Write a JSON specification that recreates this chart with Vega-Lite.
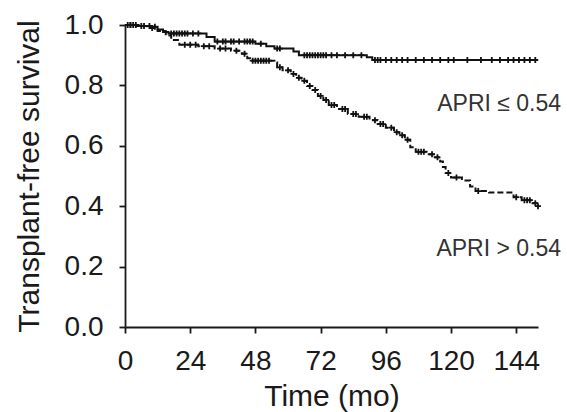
{
  "$schema": "https://vega.github.io/schema/vega-lite/v6.json",
  "width": 413,
  "height": 302,
  "autosize": {"type": "none"},
  "padding": {"left": 125, "top": 25, "right": 29, "bottom": 85},
  "background": "white",
  "config": {
    "view": {"stroke": null},
    "font": "Liberation Sans",
    "axis": {
      "domainColor": "#1a1a1a",
      "domainWidth": 1.8,
      "tickColor": "#1a1a1a",
      "tickWidth": 1.8,
      "tickSize": 6,
      "grid": false,
      "labelFlush": false,
      "labelFont": "Liberation Sans",
      "labelFontSize": 28,
      "labelColor": "#1a1a1a",
      "titleFont": "Liberation Sans",
      "titleFontSize": 30,
      "titleFontWeight": "normal",
      "titleColor": "#1a1a1a"
    }
  },
  "datasets": {
    "steps": [
      {"group": "low", "t": 0, "s": 1.0},
      {"group": "low", "t": 5, "s": 0.997},
      {"group": "low", "t": 10, "s": 0.994},
      {"group": "low", "t": 12, "s": 0.985},
      {"group": "low", "t": 14, "s": 0.977},
      {"group": "low", "t": 16, "s": 0.972},
      {"group": "low", "t": 30, "s": 0.96},
      {"group": "low", "t": 33, "s": 0.945},
      {"group": "low", "t": 48, "s": 0.938},
      {"group": "low", "t": 52, "s": 0.93},
      {"group": "low", "t": 55, "s": 0.922},
      {"group": "low", "t": 62, "s": 0.912},
      {"group": "low", "t": 64, "s": 0.9},
      {"group": "low", "t": 89, "s": 0.893},
      {"group": "low", "t": 91, "s": 0.884},
      {"group": "low", "t": 152, "s": 0.884},
      {"group": "high", "t": 0, "s": 1.0},
      {"group": "high", "t": 4, "s": 0.997},
      {"group": "high", "t": 8, "s": 0.99},
      {"group": "high", "t": 12, "s": 0.98},
      {"group": "high", "t": 15, "s": 0.965},
      {"group": "high", "t": 17, "s": 0.95},
      {"group": "high", "t": 20, "s": 0.935},
      {"group": "high", "t": 27, "s": 0.93},
      {"group": "high", "t": 33, "s": 0.922},
      {"group": "high", "t": 39, "s": 0.915},
      {"group": "high", "t": 43, "s": 0.905},
      {"group": "high", "t": 45, "s": 0.89},
      {"group": "high", "t": 46, "s": 0.882},
      {"group": "high", "t": 55, "s": 0.876},
      {"group": "high", "t": 56, "s": 0.86},
      {"group": "high", "t": 58, "s": 0.85},
      {"group": "high", "t": 61, "s": 0.838},
      {"group": "high", "t": 63, "s": 0.825},
      {"group": "high", "t": 65, "s": 0.815},
      {"group": "high", "t": 67, "s": 0.798},
      {"group": "high", "t": 69, "s": 0.785},
      {"group": "high", "t": 71, "s": 0.765},
      {"group": "high", "t": 73, "s": 0.752},
      {"group": "high", "t": 75, "s": 0.735},
      {"group": "high", "t": 78, "s": 0.722},
      {"group": "high", "t": 82, "s": 0.705},
      {"group": "high", "t": 86, "s": 0.696},
      {"group": "high", "t": 90, "s": 0.685},
      {"group": "high", "t": 93, "s": 0.672},
      {"group": "high", "t": 96, "s": 0.66},
      {"group": "high", "t": 99, "s": 0.645},
      {"group": "high", "t": 101, "s": 0.635},
      {"group": "high", "t": 103, "s": 0.62},
      {"group": "high", "t": 105, "s": 0.595},
      {"group": "high", "t": 107, "s": 0.58},
      {"group": "high", "t": 111, "s": 0.572},
      {"group": "high", "t": 114, "s": 0.562},
      {"group": "high", "t": 116, "s": 0.548},
      {"group": "high", "t": 117, "s": 0.53},
      {"group": "high", "t": 118, "s": 0.51},
      {"group": "high", "t": 120, "s": 0.495},
      {"group": "high", "t": 124, "s": 0.485},
      {"group": "high", "t": 127, "s": 0.465},
      {"group": "high", "t": 129, "s": 0.45},
      {"group": "high", "t": 134, "s": 0.445},
      {"group": "high", "t": 143, "s": 0.43},
      {"group": "high", "t": 146, "s": 0.42},
      {"group": "high", "t": 150, "s": 0.41},
      {"group": "high", "t": 152, "s": 0.4}
    ],
    "censor": [
      {"group": "low", "t": 1, "s": 1.0},
      {"group": "low", "t": 2, "s": 1.0},
      {"group": "low", "t": 3, "s": 1.0},
      {"group": "low", "t": 4, "s": 1.0},
      {"group": "low", "t": 7, "s": 0.997},
      {"group": "low", "t": 9, "s": 0.997},
      {"group": "low", "t": 11, "s": 0.994},
      {"group": "low", "t": 17, "s": 0.972},
      {"group": "low", "t": 18, "s": 0.972},
      {"group": "low", "t": 19, "s": 0.972},
      {"group": "low", "t": 20, "s": 0.972},
      {"group": "low", "t": 21, "s": 0.972},
      {"group": "low", "t": 22, "s": 0.972},
      {"group": "low", "t": 23, "s": 0.972},
      {"group": "low", "t": 25, "s": 0.972},
      {"group": "low", "t": 27, "s": 0.972},
      {"group": "low", "t": 34, "s": 0.945},
      {"group": "low", "t": 36, "s": 0.945},
      {"group": "low", "t": 37, "s": 0.945},
      {"group": "low", "t": 39, "s": 0.945},
      {"group": "low", "t": 40, "s": 0.945},
      {"group": "low", "t": 42, "s": 0.945},
      {"group": "low", "t": 44, "s": 0.945},
      {"group": "low", "t": 45, "s": 0.945},
      {"group": "low", "t": 46, "s": 0.945},
      {"group": "low", "t": 47, "s": 0.945},
      {"group": "low", "t": 50, "s": 0.938},
      {"group": "low", "t": 56, "s": 0.922},
      {"group": "low", "t": 57, "s": 0.922},
      {"group": "low", "t": 66, "s": 0.9},
      {"group": "low", "t": 67, "s": 0.9},
      {"group": "low", "t": 68, "s": 0.9},
      {"group": "low", "t": 69, "s": 0.9},
      {"group": "low", "t": 70, "s": 0.9},
      {"group": "low", "t": 71, "s": 0.9},
      {"group": "low", "t": 72, "s": 0.9},
      {"group": "low", "t": 73, "s": 0.9},
      {"group": "low", "t": 74, "s": 0.9},
      {"group": "low", "t": 76, "s": 0.9},
      {"group": "low", "t": 78, "s": 0.9},
      {"group": "low", "t": 81, "s": 0.9},
      {"group": "low", "t": 84, "s": 0.9},
      {"group": "low", "t": 87, "s": 0.9},
      {"group": "low", "t": 92, "s": 0.884},
      {"group": "low", "t": 93, "s": 0.884},
      {"group": "low", "t": 94, "s": 0.884},
      {"group": "low", "t": 96, "s": 0.884},
      {"group": "low", "t": 98, "s": 0.884},
      {"group": "low", "t": 100, "s": 0.884},
      {"group": "low", "t": 102, "s": 0.884},
      {"group": "low", "t": 104, "s": 0.884},
      {"group": "low", "t": 107, "s": 0.884},
      {"group": "low", "t": 110, "s": 0.884},
      {"group": "low", "t": 113, "s": 0.884},
      {"group": "low", "t": 116, "s": 0.884},
      {"group": "low", "t": 119, "s": 0.884},
      {"group": "low", "t": 121, "s": 0.884},
      {"group": "low", "t": 126, "s": 0.884},
      {"group": "low", "t": 131, "s": 0.884},
      {"group": "low", "t": 135, "s": 0.884},
      {"group": "low", "t": 138, "s": 0.884},
      {"group": "low", "t": 141, "s": 0.884},
      {"group": "low", "t": 143, "s": 0.884},
      {"group": "low", "t": 145, "s": 0.884},
      {"group": "low", "t": 147, "s": 0.884},
      {"group": "low", "t": 149, "s": 0.884},
      {"group": "low", "t": 151, "s": 0.884},
      {"group": "high", "t": 2, "s": 1.0},
      {"group": "high", "t": 6, "s": 0.997},
      {"group": "high", "t": 10, "s": 0.99},
      {"group": "high", "t": 22, "s": 0.935},
      {"group": "high", "t": 24, "s": 0.935},
      {"group": "high", "t": 26, "s": 0.935},
      {"group": "high", "t": 29, "s": 0.93},
      {"group": "high", "t": 31, "s": 0.93},
      {"group": "high", "t": 35, "s": 0.922},
      {"group": "high", "t": 37, "s": 0.922},
      {"group": "high", "t": 41, "s": 0.915},
      {"group": "high", "t": 44, "s": 0.905},
      {"group": "high", "t": 47, "s": 0.882},
      {"group": "high", "t": 48, "s": 0.882},
      {"group": "high", "t": 49, "s": 0.882},
      {"group": "high", "t": 50, "s": 0.882},
      {"group": "high", "t": 51, "s": 0.882},
      {"group": "high", "t": 52, "s": 0.882},
      {"group": "high", "t": 53, "s": 0.882},
      {"group": "high", "t": 57, "s": 0.86},
      {"group": "high", "t": 60, "s": 0.85},
      {"group": "high", "t": 62, "s": 0.838},
      {"group": "high", "t": 64, "s": 0.825},
      {"group": "high", "t": 66, "s": 0.815},
      {"group": "high", "t": 68, "s": 0.798},
      {"group": "high", "t": 70, "s": 0.785},
      {"group": "high", "t": 72, "s": 0.765},
      {"group": "high", "t": 74, "s": 0.752},
      {"group": "high", "t": 76, "s": 0.735},
      {"group": "high", "t": 77, "s": 0.735},
      {"group": "high", "t": 80, "s": 0.722},
      {"group": "high", "t": 81, "s": 0.722},
      {"group": "high", "t": 84, "s": 0.705},
      {"group": "high", "t": 85, "s": 0.705},
      {"group": "high", "t": 88, "s": 0.696},
      {"group": "high", "t": 89, "s": 0.696},
      {"group": "high", "t": 92, "s": 0.685},
      {"group": "high", "t": 94, "s": 0.672},
      {"group": "high", "t": 95, "s": 0.672},
      {"group": "high", "t": 98, "s": 0.66},
      {"group": "high", "t": 100, "s": 0.645},
      {"group": "high", "t": 102, "s": 0.635},
      {"group": "high", "t": 104, "s": 0.62},
      {"group": "high", "t": 108, "s": 0.58},
      {"group": "high", "t": 109, "s": 0.58},
      {"group": "high", "t": 110, "s": 0.58},
      {"group": "high", "t": 113, "s": 0.572},
      {"group": "high", "t": 115, "s": 0.562},
      {"group": "high", "t": 119, "s": 0.51},
      {"group": "high", "t": 122, "s": 0.495},
      {"group": "high", "t": 130, "s": 0.45},
      {"group": "high", "t": 144, "s": 0.43},
      {"group": "high", "t": 147, "s": 0.42},
      {"group": "high", "t": 148, "s": 0.42},
      {"group": "high", "t": 149, "s": 0.42},
      {"group": "high", "t": 151, "s": 0.41},
      {"group": "high", "t": 152, "s": 0.4}
    ],
    "labels": [
      {"label": "APRI ≤ 0.54", "t": 160.5, "s": 0.715},
      {"label": "APRI > 0.54", "t": 160.5, "s": 0.235}
    ]
  },
  "layer": [
    {
      "data": {"name": "steps"},
      "mark": {"type": "line", "interpolate": "step-after", "color": "#111111", "strokeWidth": 2},
      "encoding": {
        "x": {
          "field": "t", "type": "quantitative",
          "scale": {"domain": [0, 152], "nice": false, "zero": false},
          "axis": {"values": [0, 24, 48, 72, 96, 120, 144], "title": "Time (mo)", "labelPadding": 14, "titlePadding": 6, "format": "d"}
        },
        "y": {
          "field": "s", "type": "quantitative",
          "scale": {"domain": [0, 1], "nice": false},
          "axis": {
            "values": [0, 0.1, 0.2, 0.3, 0.4, 0.5, 0.6, 0.7, 0.8, 0.9, 1.0],
            "labelExpr": "round(datum.value * 10) % 2 == 0 ? format(datum.value, '.1f') : ''",
            "title": "Transplant-free survival",
            "labelPadding": 16,
            "titlePadding": 20
          }
        },
        "detail": {"field": "group"},
        "strokeDash": {
          "field": "group", "type": "nominal",
          "scale": {"domain": ["low", "high"], "range": [[1, 0], [6, 3]]},
          "legend": null
        }
      }
    },
    {
      "data": {"name": "censor"},
      "mark": {"type": "point", "shape": "M-1,0H1M0,-1V1", "filled": false, "color": "#111111", "strokeWidth": 1.8, "size": 36, "opacity": 1},
      "encoding": {
        "x": {"field": "t", "type": "quantitative"},
        "y": {"field": "s", "type": "quantitative"}
      }
    },
    {
      "data": {"name": "labels"},
      "mark": {"type": "text", "align": "right", "baseline": "alphabetic", "font": "Liberation Sans", "fontSize": 23, "color": "#333333"},
      "encoding": {
        "x": {"field": "t", "type": "quantitative"},
        "y": {"field": "s", "type": "quantitative"},
        "text": {"field": "label"}
      }
    }
  ]
}
